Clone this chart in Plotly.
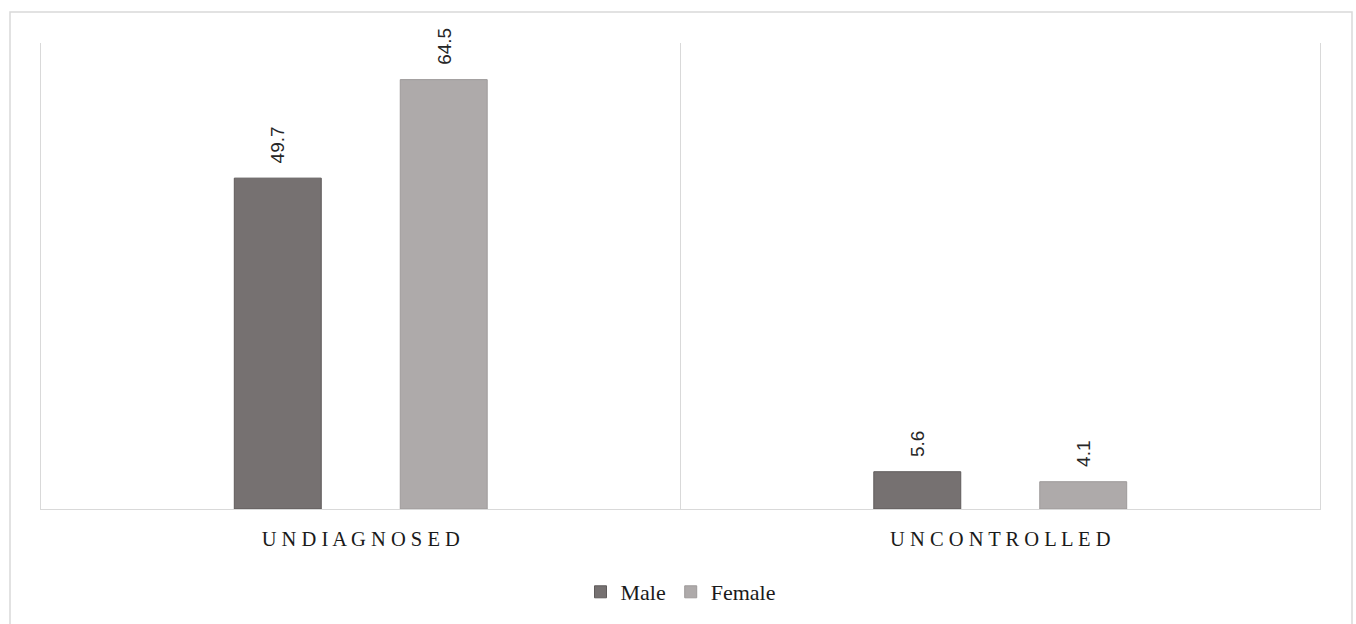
import plotly.graph_objects as go

categories = ["UNDIAGNOSED", "UNCONTROLLED"]
series_names = ["Male", "Female"]
male_values = [49.7, 5.6]
female_values = [64.5, 4.1]
colors = ["#767171", "#AEAAAA"]
line_colors = ["#5f5b5b", "#9e9a9a"]

cat_labels = [" ".join(list(c)) for c in categories]

W, H = 1356, 624
ml, mr, mt, mb = 41, 36, 43, 114
pw, ph = W - ml - mr, H - mt - mb

bargap = 0.481
bargroupgap = 0.476

fig = go.Figure()
for name, vals, col, lc in zip(series_names, [male_values, female_values], colors, line_colors):
    fig.add_trace(go.Bar(
        name=name, x=cat_labels, y=vals,
        marker=dict(color=col, line=dict(color=lc, width=1)),
    ))

# value labels above bars
slot = (1 - bargap) / 2
annotations = []
for si, vals in enumerate([male_values, female_values]):
    for ci, v in enumerate(vals):
        xpos = ci - (1 - bargap) / 2 + slot * (si + 0.5)
        annotations.append(dict(
            x=xpos, y=v, xref="x", yref="y", text=f"{v:.1f}",
            textangle=-90, showarrow=False, yanchor="bottom", xanchor="center",
            yshift=13, font=dict(family="Liberation Sans, Arial", size=19, color="#262626"),
        ))

def px_to_paper_x(px):
    return (px - ml) / pw

def px_to_paper_y(py):
    return (H - mb - py) / ph

fig.update_layout(
    width=W, height=H,
    margin=dict(l=ml, r=mr, t=mt, b=mb),
    paper_bgcolor="white", plot_bgcolor="white",
    barmode="group", bargap=bargap, bargroupgap=bargroupgap,
    annotations=annotations,
    showlegend=True,
    legend=dict(orientation="h", x=0.5, xanchor="center", y=px_to_paper_y(592), yanchor="middle",
                font=dict(family="Liberation Serif", size=22, color="#1a1a1a"),
                itemwidth=30, tracegroupgap=0),
    xaxis=dict(
        type="category", tickson="boundaries", showgrid=True, gridcolor="#d9d9d9", gridwidth=1,
        showline=True, linecolor="#d9d9d9", linewidth=1, ticks="", ticklabelstandoff=11,
        tickfont=dict(family="Liberation Serif", size=20.5, color="#1a1a1a"),
        fixedrange=True,
    ),
    yaxis=dict(range=[0, 70], showticklabels=False, ticks="", showgrid=False, zeroline=False,
               showline=True, mirror=True, linecolor="#d9d9d9", linewidth=1, fixedrange=True),
    shapes=[dict(
        type="rect", xref="paper", yref="paper",
        x0=px_to_paper_x(10), x1=px_to_paper_x(1352),
        y0=px_to_paper_y(640), y1=px_to_paper_y(12),
        line=dict(color="#d9d9d9", width=1.5), layer="below",
    )],
)

fig.write_html("out.html", config={"displayModeBar": False})
